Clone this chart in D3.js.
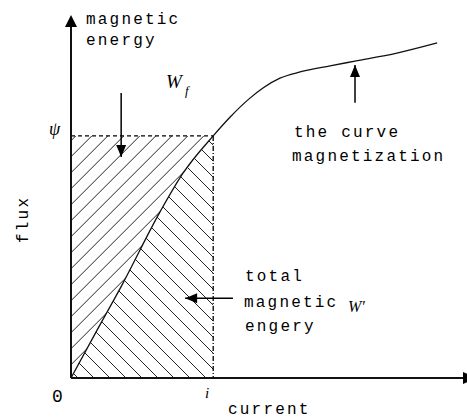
<!DOCTYPE html>
<html>
<head>
<meta charset="utf-8">
<script src="https://cdn.jsdelivr.net/npm/d3@7"></script>
<style>
body { margin: 0; background: #fff; }
text { font-family: "Liberation Mono", "DejaVu Sans Mono", monospace; font-size: 16px; letter-spacing: 2.2px; fill: #000; }
text.it { font-family: "Liberation Serif", "DejaVu Serif", serif; font-style: italic; letter-spacing: 0; }
</style>
</head>
<body>
<div id="chart"></div>
<script>
// magnetization curve (arbitrary units 0..100)
var current = [0, 6.6, 12.9, 22.5, 28.4, 36.0, 40.3, 45.3, 48.6, 52.9, 58.0, 65.6, 71.9, 82.5, 92.7]
var flux    = [0, 13.2, 25.6, 45.7, 56.5, 66.7, 71.9, 77.1, 79.9, 82.6, 84.3, 86.0, 87.3, 89.5, 92.3]
var iValue = 36.0
var psiValue = 66.7

var width = 467, height = 418

var svg = d3.select("#chart")
            .append("svg")
            .attr("width", width)
            .attr("height", height)

var x = d3.scaleLinear().domain([0, 100]).range([71, 466])
var y = d3.scaleLinear().domain([0, 100]).range([378, 15])

var points = current.map(function (c, k) { return [c, flux[k]] })
var lower = points.filter(function (p) { return p[0] <= iValue })

var defs = svg.append("defs")

// region above the curve (W_f) and below it (W')
var upperPoly = lower.concat([[0, psiValue]])
var lowerPoly = lower.concat([[iValue, 0]])

function poly(pts) {
    return pts.map(function (p) { return x(p[0]) + "," + y(p[1]) }).join(" ")
}

defs.append("clipPath").attr("id", "clipUp")
    .append("polygon").attr("points", poly(upperPoly))
defs.append("clipPath").attr("id", "clipLow")
    .append("polygon").attr("points", poly(lowerPoly))

var x0 = x(0), y0 = y(0)

// "/" hatching in the upper region
var up = svg.append("g").attr("clip-path", "url(#clipUp)")
up.selectAll("line")
  .data(d3.range(-20, 30))
  .enter().append("line")
  .attr("x1", x0 - 5)
  .attr("y1", function (k) { return 156.7 + 16 * k + 5 })
  .attr("x2", x0 + 400)
  .attr("y2", function (k) { return 156.7 + 16 * k - 400 })
  .attr("stroke", "#222")
  .attr("stroke-width", 1)

// "\" hatching in the lower region
var low = svg.append("g").attr("clip-path", "url(#clipLow)")
low.selectAll("line")
   .data(d3.range(-20, 30))
   .enter().append("line")
   .attr("x1", function (k) { return 78 + 16 * k - 400 })
   .attr("y1", y0 - 400)
   .attr("x2", function (k) { return 78 + 16 * k + 5 })
   .attr("y2", y0 + 5)
   .attr("stroke", "#222")
   .attr("stroke-width", 1)

// dashed guides at psi and i
svg.append("line")
   .attr("x1", x0).attr("y1", y(psiValue))
   .attr("x2", x(iValue)).attr("y2", y(psiValue))
   .attr("stroke", "#000").attr("stroke-width", 1.3)
   .attr("stroke-dasharray", "4,3")
svg.append("line")
   .attr("x1", x(iValue)).attr("y1", y(psiValue))
   .attr("x2", x(iValue)).attr("y2", y0)
   .attr("stroke", "#000").attr("stroke-width", 1.3)
   .attr("stroke-dasharray", "5,2,1,2")

// the curve
var line = d3.line()
             .x(function (d) { return x(d[0]) })
             .y(function (d) { return y(d[1]) })
             .curve(d3.curveMonotoneX)
svg.append("path")
   .datum(points)
   .attr("d", line)
   .attr("fill", "none")
   .attr("stroke", "#111")
   .attr("stroke-width", 1.3)

// axes
svg.append("line")
   .attr("x1", x0).attr("y1", y0).attr("x2", x0).attr("y2", y(100) + 8)
   .attr("stroke", "#111").attr("stroke-width", 2)
svg.append("line")
   .attr("x1", x0).attr("y1", y0).attr("x2", 466).attr("y2", y0)
   .attr("stroke", "#111").attr("stroke-width", 2)

function arrowHead(tx, ty, dir, len, half) {
    var p
    if (dir == "up") p = [[tx, ty], [tx - half, ty + len], [tx + half, ty + len]]
    if (dir == "down") p = [[tx, ty], [tx - half, ty - len], [tx + half, ty - len]]
    if (dir == "left") p = [[tx, ty], [tx + len, ty - half], [tx + len, ty + half]]
    if (dir == "right") p = [[tx, ty], [tx - len, ty - half], [tx - len, ty + half]]
    svg.append("polygon")
       .attr("points", p.map(function (q) { return q.join(",") }).join(" "))
       .attr("fill", "#000")
}

arrowHead(x0, y(100), "up", 12, 6)
arrowHead(476, y0, "right", 13, 6)

// annotation arrows
function pointer(x1, y1, x2, y2, dir) {
    svg.append("line")
       .attr("x1", x1).attr("y1", y1).attr("x2", x2).attr("y2", y2)
       .attr("stroke", "#000").attr("stroke-width", 1.5)
    arrowHead(x2, y2, dir, 12, 5)
}
pointer(x(12.7), y(78.5), x(12.7), y(60.9), "down")
pointer(x(71.9), y(75.8), x(71.9), y(86.2), "up")
pointer(x(41.0), y(22.0), x(28.9), y(22.0), "left")

// texts
function label(str, tx, ty, cls, size) {
    var t = svg.append("text").attr("x", tx).attr("y", ty).text(str)
    if (cls) t.attr("class", cls)
    if (size) t.style("font-size", size + "px")
    return t
}

label("magnetic", 86, 24)
label("energy", 86, 45)
label("W", 166, 88, "it", 19)
label("f", 185, 95, "it", 13)
label("\u03C8", 49, 135, "it", 18)
label("the curve", 294, 137)
label("magnetization", 292, 161)
label("total", 245, 281)
label("magnetic", 244, 307)
label("engery", 245, 331)
label("W\u2032", 348, 312, "it", 16)
label("0", 52, 402, null, 18)
label("i", 205, 398, "it", 15)
label("current", 228, 414)

svg.append("text")
   .attr("transform", "translate(28,243) rotate(-90)")
   .text("flux")
</script>
</body>
</html>
